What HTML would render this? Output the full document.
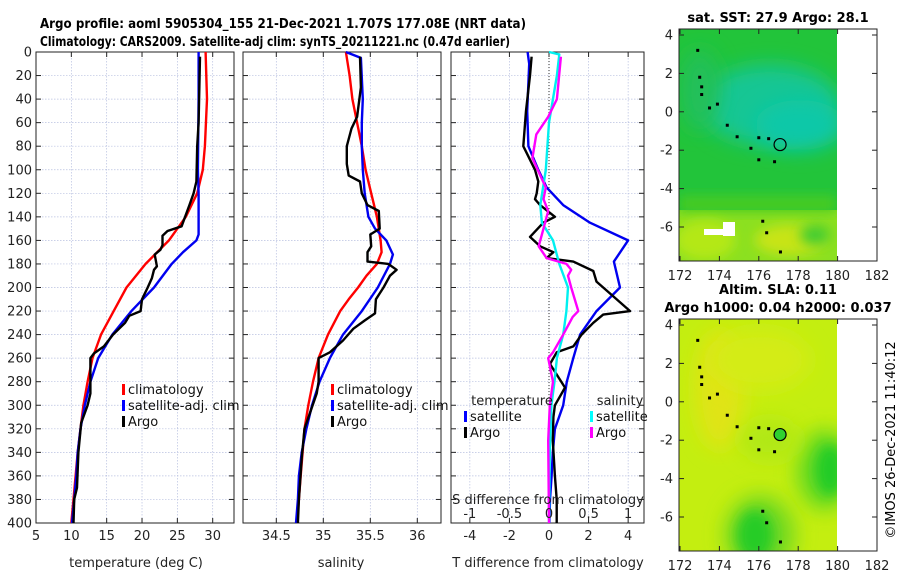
<!DOCTYPE html>
<html><head><meta charset="utf-8">
<style>
html,body{margin:0;padding:0;background:#fff;}
svg{display:block;font-family:"DejaVu Sans","Liberation Sans",sans-serif;}
</style></head>
<body>
<svg id="fig" width="900" height="580" viewBox="0 0 900 580" xmlns="http://www.w3.org/2000/svg">
<defs>
<filter id="blur6" x="-50%" y="-50%" width="200%" height="200%"><feGaussianBlur stdDeviation="6"/></filter>
<filter id="blur10" x="-50%" y="-50%" width="200%" height="200%"><feGaussianBlur stdDeviation="10"/></filter>
<clipPath id="clipTop"><rect x="679" y="29" width="158" height="232"/></clipPath>
<clipPath id="clipBot"><rect x="679" y="319" width="158" height="232"/></clipPath>
</defs>
<text x="40" y="28" font-size="13.5" font-weight="bold" textLength="486" lengthAdjust="spacingAndGlyphs">Argo profile: aoml 5905304_155 21-Dec-2021 1.707S 177.08E (NRT data)</text>
<text x="40" y="46" font-size="13.5" font-weight="bold" textLength="470" lengthAdjust="spacingAndGlyphs">Climatology: CARS2009. Satellite-adj clim: synTS_20211221.nc (0.47d earlier)</text>
<g id="panels"></g>
<!-- Maps -->
<g>
<text x="778" y="22" font-size="13" font-weight="bold" text-anchor="middle">sat. SST: 27.9 Argo: 28.1</text>
<g clip-path="url(#clipTop)">
<rect x="679" y="29" width="158" height="232" fill="#22c43a"/>
<ellipse cx="770" cy="105" rx="70" ry="40" fill="#14c694" filter="url(#blur10)"/>
<ellipse cx="800" cy="125" rx="45" ry="25" fill="#0cc8a8" filter="url(#blur10)"/>
<ellipse cx="700" cy="90" rx="20" ry="40" fill="#22c05a" filter="url(#blur10)"/>
<rect x="679" y="210" width="158" height="51" fill="#8ce020"/>
<rect x="679" y="196" width="158" height="16" fill="#48cc22" filter="url(#blur6)"/>
<ellipse cx="705" cy="240" rx="30" ry="20" fill="#b4e818" filter="url(#blur6)"/>
<ellipse cx="790" cy="240" rx="35" ry="15" fill="#c8e418" filter="url(#blur6)"/>
<ellipse cx="815" cy="235" rx="15" ry="10" fill="#40cc30" filter="url(#blur6)"/>
<rect x="723" y="222" width="12" height="14" fill="#fff"/>
<rect x="704" y="229" width="22" height="6" fill="#fff"/>
</g>
<rect x="837" y="29" width="40" height="232" fill="#fff"/>
</g>
<g>
<text x="778" y="294" font-size="13" font-weight="bold" text-anchor="middle">Altim. SLA: 0.11</text>
<text x="778" y="312" font-size="13" font-weight="bold" text-anchor="middle">Argo h1000: 0.04 h2000: 0.037</text>
<g clip-path="url(#clipBot)">
<rect x="679" y="319" width="158" height="232" fill="#c4ee10"/>
<ellipse cx="720" cy="390" rx="25" ry="60" fill="#e0e418" filter="url(#blur10)"/>
<ellipse cx="760" cy="360" rx="50" ry="30" fill="#d4ec14" filter="url(#blur10)"/>
<ellipse cx="825" cy="470" rx="28" ry="40" fill="#60d824" filter="url(#blur10)"/>
<ellipse cx="830" cy="470" rx="14" ry="25" fill="#24cc28" filter="url(#blur6)"/>
<ellipse cx="760" cy="535" rx="35" ry="40" fill="#70d824" filter="url(#blur10)"/>
<ellipse cx="755" cy="535" rx="18" ry="25" fill="#28cc28" filter="url(#blur6)"/>
<ellipse cx="770" cy="440" rx="30" ry="20" fill="#b0e814" filter="url(#blur10)"/>
</g>
<rect x="837" y="319" width="40" height="232" fill="#fff"/>
</g>
<text transform="translate(895,440) rotate(-90)" font-size="13" text-anchor="middle">©IMOS 26-Dec-2021 11:40:12</text>
<g id="maps"></g>
</svg>
<script>
// ---------- Data ----------
const depthTicks = [0,20,40,60,80,100,120,140,160,180,200,220,240,260,280,300,320,340,360,380,400];
const tempTicks = [5,10,15,20,25,30];
const salTicks = [34.5,35,35.5,36];
const tDiffTicks = [-4,-2,0,2,4];
const sDiffTicks = [-1,-0.5,0,0.5,1];

const tClimDepth = [0,40,80,100,120,140,160,180,200,220,240,260,280,300,320,340,360,380,400];
const tClimVal   = [29.0,29.2,28.9,28.6,27.8,26.2,23.8,20.5,17.8,16.0,14.2,13.0,12.3,11.7,11.3,10.9,10.6,10.3,10.0];
const tSatDepth = [0,40,100,120,155,160,170,180,200,220,240,260,280,300,320,340,360,380,400];
const tSatVal   = [28.0,28.0,27.9,28.0,28.0,27.7,25.8,24.2,21.7,18.5,15.8,13.8,12.7,11.9,11.3,10.9,10.7,10.4,10.1];
const tArgoDepth = [4,60,80,110,120,130,140,148,152,156,164,168,172,182,185,192,200,210,220,224,230,240,250,256,260,290,300,315,340,370,380,400];
const tArgoVal   = [28.2,28.0,27.8,27.7,27.3,26.7,26.1,25.6,23.6,22.9,22.9,22.6,21.8,22.1,21.7,21.4,20.8,20.0,19.8,18.2,17.6,15.9,14.6,13.2,12.7,12.7,12.3,11.4,11.0,10.8,10.4,10.3];

const sClimDepth = [0,20,40,60,80,100,120,140,160,170,180,190,200,210,220,240,260,280,300,320,340,360,380,400];
const sClimVal   = [35.24,35.28,35.31,35.36,35.41,35.45,35.51,35.57,35.61,35.62,35.57,35.46,35.37,35.27,35.18,35.05,34.95,34.89,34.84,34.80,34.78,34.76,34.74,34.72];
const sSatDepth = [0,5,40,60,80,100,120,140,150,160,172,180,200,220,240,260,280,300,320,340,360,380,400];
const sSatVal   = [35.24,35.40,35.42,35.41,35.41,35.42,35.44,35.48,35.55,35.67,35.74,35.71,35.58,35.41,35.21,35.07,34.96,34.88,34.82,34.77,34.74,34.73,34.71];
const sArgoDepth = [4,30,55,65,80,95,105,110,120,130,135,150,155,165,170,178,180,185,190,200,210,222,228,235,245,255,260,280,290,320,345,380,400];
const sArgoVal   = [35.39,35.40,35.36,35.30,35.25,35.25,35.27,35.39,35.41,35.47,35.59,35.60,35.50,35.51,35.47,35.47,35.69,35.78,35.71,35.64,35.56,35.55,35.44,35.32,35.21,35.07,34.95,34.95,34.93,34.80,34.77,34.74,34.73];

const dtSatDepth = [0,10,50,80,100,115,130,145,160,178,200,220,240,260,280,300,320,340,360,380,400];
const dtSatVal   = [-1.08,-1.0,-1.1,-1.04,-0.54,-0.12,0.72,2.07,4.0,3.28,3.59,2.4,1.57,1.23,0.9,0.72,0.3,0.19,0.13,0.05,0.02];
const dtArgoDepth = [4,20,50,80,100,110,120,125,130,140,145,157,165,170,175,178,186,195,205,220,223,230,240,250,255,265,285,300,310,330,360,380,400];
const dtArgoVal   = [-0.88,-0.96,-1.16,-1.3,-0.71,-0.54,-0.62,-0.71,-0.45,0.3,-0.29,-0.96,-0.45,0.22,-0.12,1.23,2.24,2.4,3.08,4.1,2.74,2.24,1.65,1.23,0.39,0.05,0.81,0.3,0.22,0.19,0.3,0.39,0.39];
const dsSatDepth = [0,2,20,60,100,130,145,160,180,200,220,240,260,280,300,340,400];
const dsSatVal   = [0.0,0.13,0.1,0.0,-0.04,-0.11,-0.09,0.05,0.13,0.24,0.22,0.18,0.1,0.07,0.03,0.01,0.0];
const dsArgoDepth = [4,40,55,70,90,105,115,125,135,150,165,175,180,185,190,200,220,225,240,255,260,280,300,330,400];
const dsArgoVal   = [0.15,0.1,-0.01,-0.16,-0.21,-0.11,-0.04,-0.07,-0.01,-0.07,-0.13,-0.03,0.22,0.28,0.24,0.28,0.37,0.3,0.18,0.05,-0.01,0.05,0.01,-0.01,0.0];

const lonTicks = [172,174,176,178,180,182];
const latTicks = [4,2,0,-2,-4,-6];
const argoLon = [177.08];
const argoLat = [-1.707];

// ---------- Helpers ----------
const NS = "http://www.w3.org/2000/svg";
const top0 = 52, bot0 = 523;
const yD = d => top0 + d*(bot0-top0)/400;
function mk(tag, attrs, parent){
  const e = document.createElementNS(NS, tag);
  for (const k in attrs) e.setAttribute(k, attrs[k]);
  parent.appendChild(e); return e;
}
const panels = document.getElementById('panels');

function panel(name, x0, x1, xFn, ticks, tickFmt, showY){
  const g = mk('g', {}, panels);
  
  
  depthTicks.forEach(d => {
    const l = mk('line', {x1:x0, x2:x1, y1:yD(d), y2:yD(d), stroke:'#b8c0e0', 'stroke-width':0.7, 'stroke-dasharray':'1.5,1.5'}, g);
    
    
    mk('line', {x1:x0, x2:x0+5, y1:yD(d), y2:yD(d), stroke:'#222', 'stroke-width':1}, g);
    mk('line', {x1:x1-5, x2:x1, y1:yD(d), y2:yD(d), stroke:'#222', 'stroke-width':1}, g);
    if (showY){
      const t = mk('text', {x:x0-4, y:yD(d)+4.5, 'font-size':13, 'text-anchor':'end', fill:'#222'}, g);
      
      
      t.textContent = d;
    }
  });
  ticks.forEach(v => {
    const x = xFn(v);
    const l = mk('line', {x1:x, x2:x, y1:top0, y2:bot0, stroke:'#b8c0e0', 'stroke-width':0.7, 'stroke-dasharray':'1.5,1.5'}, g);
    
    
    mk('line', {x1:x, x2:x, y1:bot0-5, y2:bot0, stroke:'#222'}, g);
    mk('line', {x1:x, x2:x, y1:top0, y2:top0+5, stroke:'#222'}, g);
    const t = mk('text', {x:x, y:bot0+17, 'font-size':13, 'text-anchor':'middle', fill:'#222'}, g);
    
    
    t.textContent = tickFmt(v);
  });
  const fr = mk('rect', {x:x0, y:top0, width:x1-x0, height:bot0-top0, fill:'none', stroke:'#222', 'stroke-width':1}, g);
  
  
  return g;
}
function series(g, name, depths, vals, xFn, color){
  const pts = depths.map((d,i) => xFn(vals[i]).toFixed(1)+','+yD(d).toFixed(1)).join(' ');
  const p = mk('polyline', {points:pts, fill:'none', stroke:color, 'stroke-width':2.4, 'stroke-linejoin':'round'}, g);
  
  
}
function legend(g, x, y, items){
  items.forEach((it,i) => {
    const yy = y + i*16;
    mk('rect', {x:x, y:yy-10, width:3, height:11, fill:it[1]}, g);
    const t = mk('text', {x:x+6, y:yy, 'font-size':13, fill:'#111'}, g);
    
    
    t.textContent = it[0];
  });
}
function label(g, name, x, y, txt){
  const t = mk('text', {x:x, y:y, 'font-size':13, 'text-anchor':'middle', fill:'#222'}, g);
  
  
  t.textContent = txt;
}

// Temperature panel
const xT = v => 36 + (v-5)*(212.7-36)/25;
const g1 = panel('temperature-panel', 36, 234, xT, tempTicks, v=>v, true);
series(g1, 'temp-climatology-line', tClimDepth, tClimVal, xT, '#f00');
series(g1, 'temp-satellite-line', tSatDepth, tSatVal, xT, '#0000f0');
series(g1, 'temp-argo-line', tArgoDepth, tArgoVal, xT, '#000');
legend(g1, 122, 394, [['climatology','#f00'],['satellite-adj. clim','#00f'],['Argo','#000']]);
label(g1, 'x-axis-title-temperature', 136, 567, 'temperature (deg C)');

// Salinity panel
const xS = v => 276.3 + (v-34.5)*(417.3-276.3)/1.5;
const g2 = panel('salinity-panel', 243, 441, xS, salTicks, v=>v, false);
series(g2, 'sal-climatology-line', sClimDepth, sClimVal, xS, '#f00');
series(g2, 'sal-satellite-line', sSatDepth, sSatVal, xS, '#0000f0');
series(g2, 'sal-argo-line', sArgoDepth, sArgoVal, xS, '#000');
legend(g2, 331, 394, [['climatology','#f00'],['satellite-adj. clim','#00f'],['Argo','#000']]);
label(g2, 'x-axis-title-salinity', 341, 567, 'salinity');

// Difference panel
const xDT = v => 549 + v*(628.3-470)/8;
const xDS = v => 549 + v*(628.3-470)/2;
const g3 = panel('difference-panel', 451, 644, xDT, tDiffTicks, v=>v, false);
const zl = mk('line', {x1:549, x2:549, y1:top0, y2:bot0, stroke:'#333', 'stroke-width':1, 'stroke-dasharray':'1,2'}, g3);


series(g3, 'dtemp-satellite-line', dtSatDepth, dtSatVal, xDT, '#0000f0');
series(g3, 'dtemp-argo-line', dtArgoDepth, dtArgoVal, xDT, '#000');
series(g3, 'dsal-satellite-line', dsSatDepth, dsSatVal, xDS, '#00f0f0');
series(g3, 'dsal-argo-line', dsArgoDepth, dsArgoVal, xDS, '#f0f');
label(g3, 'legend-temperature-header', 512, 405, 'temperature');
label(g3, 'legend-salinity-header', 620, 405, 'salinity');
legend(g3, 464, 421, [['satellite','#00f'],['Argo','#000']]);
legend(g3, 590, 421, [['satellite','#0ff'],['Argo','#f0f']]);
label(g3, 'salinity-diff-axis-title', 548, 504, 'S difference from climatology');
sDiffTicks.forEach(v => {
  const t = mk('text', {x:xDS(v), y:518, 'font-size':13, 'text-anchor':'middle', fill:'#222'}, g3);
  
  
  t.textContent = v;
});
label(g3, 'x-axis-title-tdiff', 548, 567, 'T difference from climatology');

// Maps axes
const mapsG = document.getElementById('maps');
const xLon = v => 680 + (v-172)*(877-680)/10;
function mapAxes(name, yOff){
  const g = mk('g', {}, mapsG);
  
  
  const yLat = v => yOff + 35 + (4-v)*(227-35)/10;
  mk('rect', {x:679, y:yOff+29, width:198, height:232, fill:'none', stroke:'#222'}, g);
  lonTicks.forEach(v => {
    mk('line', {x1:xLon(v), x2:xLon(v), y1:yOff+261, y2:yOff+256, stroke:'#222'}, g);
    mk('line', {x1:xLon(v), x2:xLon(v), y1:yOff+29, y2:yOff+34, stroke:'#222'}, g);
    const t = mk('text', {x:xLon(v), y:yOff+280, 'font-size':13, 'text-anchor':'middle', fill:'#222'}, g);
    
    
    t.textContent = v;
  });
  latTicks.forEach(v => {
    mk('line', {x1:679, x2:684, y1:yLat(v), y2:yLat(v), stroke:'#222'}, g);
    mk('line', {x1:872, x2:877, y1:yLat(v), y2:yLat(v), stroke:'#222'}, g);
    const t = mk('text', {x:673, y:yLat(v)+4.5, 'font-size':13, 'text-anchor':'end', fill:'#222'}, g);
    
    
    t.textContent = v;
  });
  const c = mk('circle', {cx:xLon(argoLon[0]), cy:yLat(argoLat[0]), r:6, fill: yOff ? '#30d030' : 'none', stroke:'#000', 'stroke-width':1.2}, g);
  
  
  [[172.9,3.2],[173.0,1.8],[173.1,1.3],[173.1,0.9],[173.5,0.2],[173.9,0.4],[174.4,-0.7],[174.9,-1.3],[175.6,-1.9],[176.0,-1.35],[176.5,-1.4],[176.0,-2.5],[176.8,-2.6],[176.2,-5.7],[176.4,-6.3],[177.1,-7.3]].forEach(p=>{
    mk('rect', {x:xLon(p[0])-1.5, y:yLat(p[1])-1.5, width:3, height:3, fill:'#000'}, g);
  });
}
mapAxes('sst-map-axes', 0);
mapAxes('sla-map-axes', 290);
</script>
</body></html>
